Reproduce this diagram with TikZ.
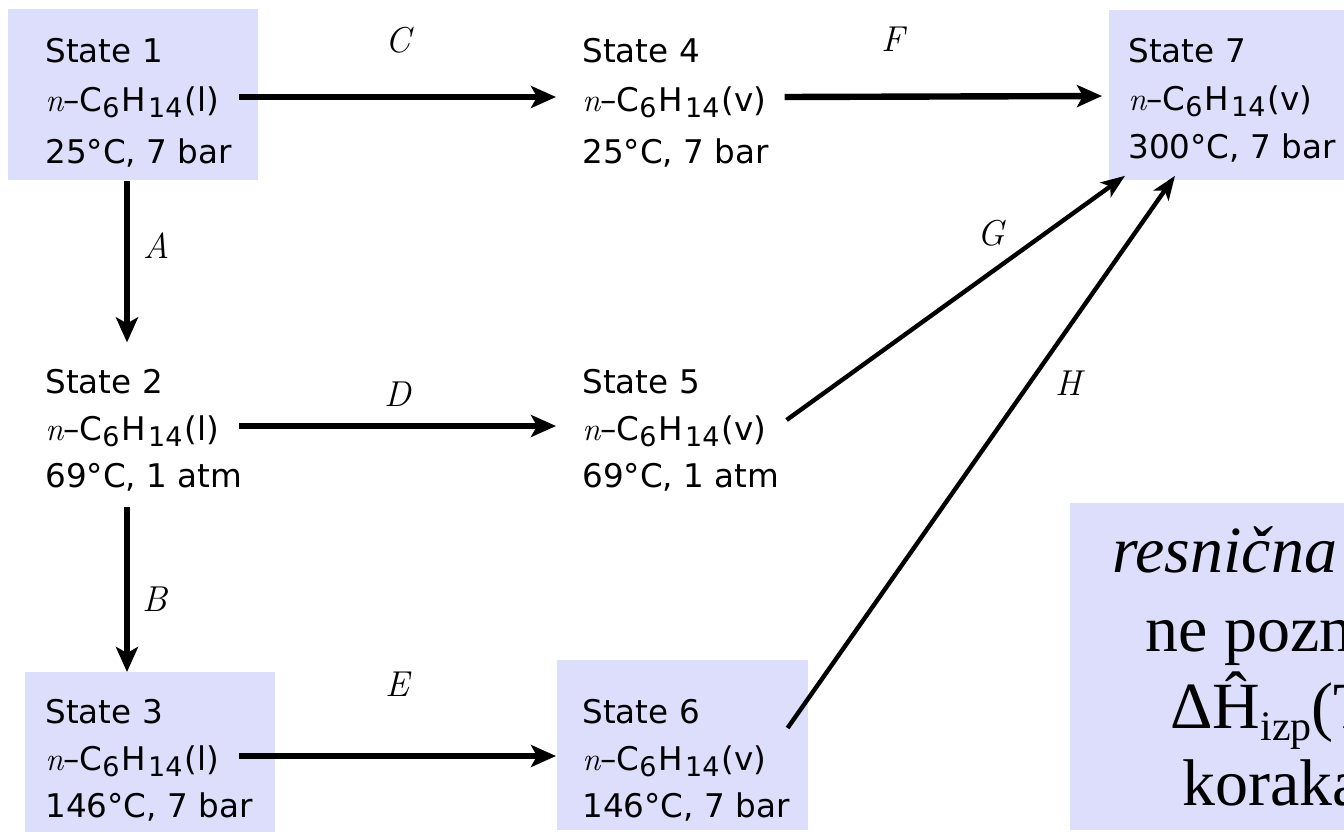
\documentclass[tikz,border=0pt]{standalone}
\usepackage{fontspec}
\newfontfamily\statefont{DejaVu Sans}
\newfontfamily\notefont{Liberation Serif}
\usetikzlibrary{arrows.meta,positioning}
\definecolor{lavender}{RGB}{221,221,252}
\newcommand{\lowsub}[1]{\raisebox{-3pt}{\fontsize{13.5pt}{13.5pt}\selectfont #1}}
\newcommand{\hexane}[1]{{\rmfamily\itshape n}–C\lowsub{6}\kern1pt H\kern1pt\lowsub{14}\kern1pt(#1)}

\begin{document}
\begin{tikzpicture}[x=0.5pt,y=-0.5pt]
	\tikzstyle{every node}=[font=\statefont\fontsize{16.3pt}{19pt}\selectfont, inner sep=0pt]
	\tikzstyle{statebox}=[fill=lavender, anchor=north west, minimum width=125pt, minimum height=85pt]
	\tikzstyle{stateline}=[anchor=base west]
	\tikzstyle{pathlabel}=[font=\rmfamily\itshape\fontsize{18pt}{20pt}\selectfont]
	\tikzstyle{heavy}=[line width=3.2pt, -{Stealth[length=12.5pt,width=11pt,inset=3pt]}]
	\tikzstyle{slant}=[line width=2.2pt, -{Stealth[length=12pt,width=9pt,inset=3pt]}]
	\tikzstyle{notetext}=[anchor=base west, font=\notefont\fontsize{33pt}{39pt}\selectfont]
	
	\useasboundingbox (0,0) rectangle (1344,836);
	
	\node[statebox, minimum height=85.5pt] (b1) at (8,9) {};
	\node[statebox, minimum height=80pt] (b3) at (25,672) {};
	\node[statebox, minimum width=125.5pt] (b6) at (557,660) {};
	\node[statebox, minimum width=117.5pt] (b7) at (1109,10) {};
	\node[statebox, minimum width=137pt, minimum height=163.5pt] (b8) at (1070,503) {};
	
	\node[stateline] (t1) at (45,62) {State 1};
	\node[stateline] (f1) at (45,111) {\hexane{l}};
	\node[stateline] (c1) at (45,163) {25°C, 7 bar};
	\node[stateline] (t2) at (45,393) {State 2};
	\node[stateline] (f2) at (45,440) {\hexane{l}};
	\node[stateline] (c2) at (45,487) {69°C, 1 atm};
	\node[stateline] (t3) at (45,723) {State 3};
	\node[stateline] (f3) at (45,770) {\hexane{l}};
	\node[stateline] (c3) at (45,817) {146°C, 7 bar};
	
	\node[stateline] (t4) at (582,62) {State 4};
	\node[stateline] (f4) at (582,111) {\hexane{v}};
	\node[stateline] (c4) at (582,163) {25°C, 7 bar};
	\node[stateline] (t5) at (582,393) {State 5};
	\node[stateline] (f5) at (582,440) {\hexane{v}};
	\node[stateline] (c5) at (582,487) {69°C, 1 atm};
	\node[stateline] (t6) at (582,723) {State 6};
	\node[stateline] (f6) at (582,770) {\hexane{v}};
	\node[stateline] (c6) at (582,817) {146°C, 7 bar};
	
	\node[stateline] (t7) at (1128,62) {State 7};
	\node[stateline] (f7) at (1128,110) {\hexane{v}};
	\node[stateline] (c7) at (1128,158) {300°C, 7 bar};
	
	\draw[heavy] ([xshift=10pt,yshift=7pt]f1.base east) -- ([xshift=-13pt,yshift=7pt]f4.base west)
	node[pathlabel, pos=0.5, yshift=28.5pt]{C};
	\draw[heavy] ([xshift=9pt,yshift=7pt]f4.base east) -- ([xshift=-13pt,yshift=7pt]f7.base west)
	node[pathlabel, pos=0.34, yshift=28.5pt]{F};
	\draw[heavy, line width=2.8pt] ([xshift=10pt,yshift=7pt]f2.base east) -- ([xshift=-13pt,yshift=7pt]f5.base west)
	node[pathlabel, pos=0.5, yshift=16pt]{D};
	\draw[heavy] ([xshift=10pt,yshift=7pt]f3.base east) -- ([xshift=-13pt,yshift=7pt]f6.base west)
	node[pathlabel, pos=0.5, yshift=36pt]{E};
	
	\draw[heavy] ([xshift=41pt]b1.south -| t2.west) -- ([xshift=41pt,yshift=13pt]t2.north west)
	node[pathlabel, pos=0.4, xshift=15pt]{A};
	\draw[heavy] ([xshift=41pt,yshift=-8pt]c2.south west) -- ([xshift=41pt]b3.north -| c2.west)
	node[pathlabel, pos=0.56, xshift=14pt]{B};
	
	\draw[slant] ([xshift=10pt,yshift=10pt]f5.base east) -- ([xshift=8pt,yshift=2.5pt]b7.south west)
	node[pathlabel, pos=0.66, xshift=-9.5pt, yshift=13pt]{G};
	\draw[slant] ([xshift=10.5pt,yshift=21pt]f6.base east) -- ([xshift=33pt,yshift=2.5pt]b7.south west)
	node[pathlabel, pos=0.657, xshift=13pt, yshift=-9pt]{H};
	
	\node[notetext] (n1) at (1112,572) {\itshape resnična p};
	\node[notetext] (n2) at (1145,651) {ne pozn};
	\node[notetext] (n3) at (1170,728) {ΔĤ\raisebox{-6pt}{\fontsize{21pt}{21pt}\selectfont izp}(T};
	\node[notetext] (n4) at (1182,805) {koraka};
	
\end{tikzpicture}
\end{document}
